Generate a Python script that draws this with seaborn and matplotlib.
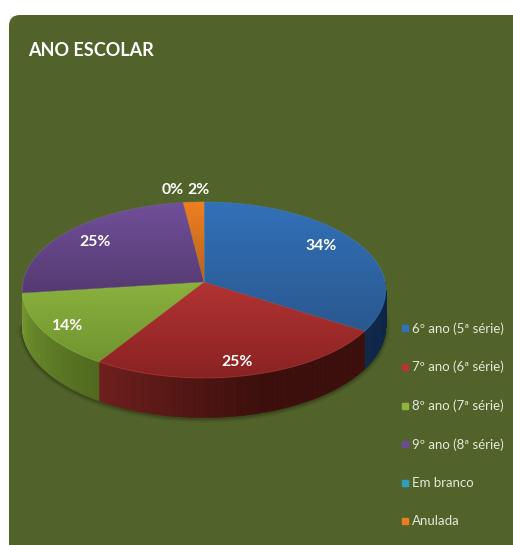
import numpy as np
import matplotlib
matplotlib.use("Agg")
import matplotlib.pyplot as plt
import seaborn as sns
from matplotlib.collections import PolyCollection
from matplotlib.colors import to_rgb
from matplotlib.lines import Line2D
from matplotlib.patches import FancyBboxPatch, Polygon

title = "ANO ESCOLAR"
categories = ["6º ano (5ª série)", "7º ano (6ª série)", "8º ano (7ª série)",
              "9º ano (8ª série)", "Em branco", "Anulada"]
shares = [34, 25, 14, 25, 0, 2]
value_labels = ["34%", "25%", "14%", "25%", "0%", "2%"]

swatches = ["#3272bb", "#b83434", "#8fb33f", "#6c4a96", "#2f9fbd", "#e97e22"]
face_top = ["#3271b8", "#b23333", "#8bb13e", "#714f9a", "#2f9fbd", "#ee7f20"]
face_bottom = ["#2a5890", "#8a2222", "#6f9430", "#553a72", "#1f7f9a", "#b8631e"]
wall_start = ["#0d2442", "#3c0f0d", "#50691f", "#3c2858", "#14566a", "#8a4a12"]
wall_end = ["#10294c", "#701f1d", "#76992f", "#4c3570", "#1d6f88", "#a05814"]

BACKGROUND = "#51632a"
TEXT_LIGHT = "#e4e8d8"

sns.set_theme(style="white", rc={"font.family": ["Lato", "DejaVu Sans"]})

# Perspective disc: centre, half width, tilt terms and extruded wall height
CX, CY, K = 204.0, 282.0, 181.0
TILT_A, TILT_C = -61.6, 0.0909
WALL = 36.0
MIN_WALL_ARC = np.radians(10)


def rim(theta):
    """Project clockwise-from-top angles (radians) on the disc rim to pixels."""
    u, v = np.sin(theta), np.cos(theta)
    d = 1 + TILT_C * v
    return CX + K * u / d, (TILT_A * v + CY) / d, WALL / d


fig = plt.figure(figsize=(5.13, 5.45), dpi=100, facecolor="white")
ax = fig.add_axes([0, 0, 1, 1])
ax.axis("off")

panel = FancyBboxPatch((9, 15), 540, 560, boxstyle="round,pad=0,rounding_size=11",
                       facecolor=BACKGROUND, edgecolor="none", zorder=0)
ax.add_patch(panel)

fractions = np.cumsum([0] + shares) / sum(shares)
edges = fractions * 2 * np.pi

# Soft shadow just beneath the body of the pie
t_all = np.linspace(np.pi / 2 - 0.1, 3 * np.pi / 2 - 0.1, 200)
sx, sy, sh = rim(t_all)
for width, alpha in [(6, 0.05), (4, 0.08), (2, 0.14)]:
    ax.plot(sx, sy + sh + 1, color="black", lw=width, alpha=alpha, zorder=1,
            solid_capstyle="round")

# Outer walls, shaded per wedge from one end of its visible arc to the other
for i in range(len(shares)):
    lo, hi = max(edges[i], np.pi / 2), min(edges[i + 1], 3 * np.pi / 2)
    if hi - lo < MIN_WALL_ARC:
        continue
    t = np.linspace(lo, hi, 60)
    x, y, h = rim(t)
    quads = [[(x[j], y[j]), (x[j + 1], y[j + 1]),
              (x[j + 1], y[j + 1] + h[j + 1]), (x[j], y[j] + h[j])]
             for j in range(len(t) - 1)]
    c0, c1 = np.array(to_rgb(wall_start[i])), np.array(to_rgb(wall_end[i]))
    if i == 1:
        # Dark over most of the front, lifting only near the left end
        mix = np.clip((t[:-1] - lo) / (hi - lo) - 0.45, 0, 1) / 0.55
    else:
        mix = (t[:-1] - lo) / (hi - lo)
    colors = [tuple(c0 + (c1 - c0) * m) for m in mix]
    ax.add_collection(PolyCollection(quads, facecolors=colors, edgecolors=colors,
                                     linewidths=0.4, zorder=2))

# Top faces, each filled with a vertical gradient clipped to its wedge
for i in range(len(shares)):
    if shares[i] == 0:
        continue
    t = np.linspace(edges[i], edges[i + 1], 120)
    x, y, _ = rim(t)
    px = np.r_[CX, x]
    py = np.r_[CY, y]
    verts = np.column_stack([px, py])
    c0, c1 = np.array(to_rgb(face_top[i])), np.array(to_rgb(face_bottom[i]))
    ramp = np.linspace(0, 1, 128)[:, None, None]
    img = c0[None, None, :] * (1 - ramp) + c1[None, None, :] * ramp
    im = ax.imshow(img, extent=(px.min(), px.max(), py.max(), py.min()),
                   aspect="auto", zorder=3, interpolation="bilinear")
    clip = Polygon(verts, closed=True, transform=ax.transData, facecolor="none",
                   edgecolor="none")
    ax.add_patch(clip)
    im.set_clip_path(clip)
    # Faint bevel along the wedge outline
    rim_color = tuple(np.clip(c0 + 0.08, 0, 1))
    ax.plot(x, y, color=rim_color, lw=0.7, alpha=0.45, zorder=4)
    ax.plot([CX, x[0]], [CY, y[0]], color=rim_color, lw=0.4, alpha=0.35, zorder=4)
    ax.plot([CX, x[-1]], [CY, y[-1]], color=rim_color, lw=0.4, alpha=0.35, zorder=4)

ax.set_xlim(0, 513)
ax.set_ylim(545, 0)

ax.text(28, 50, title, color="white", fontsize=13.0, fontweight="bold",
        va="center", ha="left", zorder=6)

# Value labels sit where the original layout placed them inside each wedge
label_xy = [(321, 246.5), (237, 361.5), (68, 325.5), (95, 242.5), (173, 189.5), (199, 189.5)]
for text, (lx, ly) in zip(value_labels, label_xy):
    ax.text(lx, ly, text, color="white", fontsize=11.3, fontweight="bold",
            ha="center", va="center", zorder=6)

handles = [Line2D([], [], linestyle="none", marker="s", markersize=5.0,
                  markerfacecolor=c, markeredgecolor=c, label=name)
           for c, name in zip(swatches, categories)]
legend = ax.legend(handles=handles, loc="upper left", bbox_to_anchor=(396, 322),
                   bbox_transform=ax.transData, frameon=False, fontsize=9.5,
                   labelspacing=1.99, handletextpad=-0.2, handlelength=1.4,
                   borderpad=0, borderaxespad=0)
for txt in legend.get_texts():
    txt.set_color(TEXT_LIGHT)
legend.set_zorder(6)

fig.savefig("out.png", dpi=100, facecolor="white")
